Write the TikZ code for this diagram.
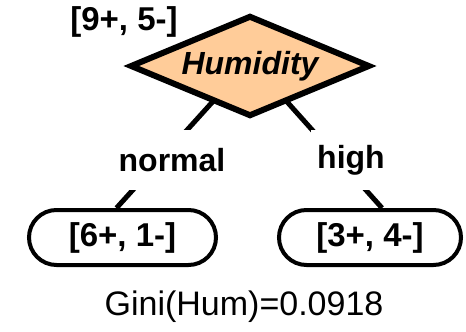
\documentclass[tikz,border=0pt]{standalone}
\usepackage{fontspec}
\setmainfont{Liberation Sans}
\usetikzlibrary{shapes.geometric,shapes.misc,backgrounds}
\definecolor{peach}{RGB}{255,204,153}
\tikzset{
  test/.style={diamond, draw=black, line width=6pt, fill=peach, aspect=2.4,
    minimum width=240pt, minimum height=101pt, inner sep=0pt,
    font=\fontsize{32}{38}\selectfont\bfseries\itshape},
  leaf/.style={rounded rectangle, draw=black, line width=4pt, fill=white,
    minimum height=55pt, inner sep=0pt, font=\fontsize{33}{40}\selectfont\bfseries},
  branch/.style={line width=5pt, black},
  edgelabel/.style={fill=white, inner sep=0pt, minimum height=60pt,
    font=\fontsize{32}{38}\selectfont\bfseries},
  counts/.style={inner sep=0pt, font=\fontsize{33}{40}\selectfont\bfseries},
  score/.style={inner sep=0pt, font=\fontsize{34}{41}\selectfont}
}
\begin{document}
\begin{tikzpicture}[x=1pt, y=-1pt]
  \useasboundingbox (0,0) rectangle (466,332);
  % split node and its class counts
  \node[test] (dia) at (250,66) {Humidity};
  \node[counts] (rootcount) at (124,22) {[9+, 5-]};
  % leaves
  \node[leaf, minimum width=187pt] (L) at (122.5,237.5) {[6+, 1-]};
  \node[leaf, minimum width=182pt] (R) at (370,237.5) {[3+, 4-]};
  % branches, kept behind the nodes
  \begin{scope}[on background layer]
    \draw[branch] ([xshift=-5pt]dia.center) -- ([xshift=-6pt]L.north);
    \draw[branch] ([xshift=5pt]dia.center) -- ([xshift=12pt]R.north);
  \end{scope}
  % branch values, blanking the line behind them
  \node[edgelabel, minimum width=106pt] (nlab) at (172,160) {normal};
  \node[edgelabel, minimum width=80pt] (hlab) at (351,160) {high};
  % impurity of the split
  \node[score] (gini) at (244,307) {Gini(Hum)=0.0918};
\end{tikzpicture}
\end{document}
